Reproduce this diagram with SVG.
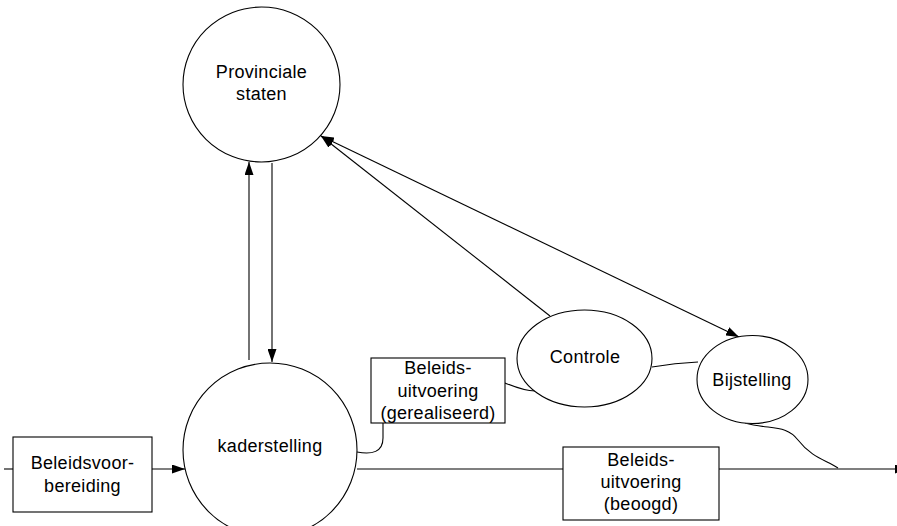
<svg xmlns="http://www.w3.org/2000/svg" width="897" height="526" viewBox="0 0 897 526">
<defs>
<style>
.shape{fill:#fff;stroke:#000;stroke-width:1.1}
.conn{fill:none;stroke:#000;stroke-width:1.1}
text{font-family:"Liberation Sans",Arial,sans-serif;font-size:18px;letter-spacing:0.3px;text-anchor:middle;fill:#000}
</style>
<marker id="ah" viewBox="0 0 13 9" refX="13" refY="4.5" markerWidth="13" markerHeight="9" markerUnits="userSpaceOnUse" orient="auto-start-reverse">
<path d="M0,0 L13,4.5 L0,9 Z" fill="#000"/>
</marker>
</defs>
<rect width="897" height="526" fill="#fff"/>
<g id="connectors">
<line class="conn" x1="4" y1="469" x2="13" y2="469"/>
<line class="conn" x1="152" y1="469" x2="185" y2="469" marker-end="url(#ah)"/>
<line class="conn" x1="249" y1="360" x2="249" y2="162" marker-end="url(#ah)"/>
<line class="conn" x1="272" y1="163" x2="272" y2="362" marker-end="url(#ah)"/>
<line class="conn" x1="550" y1="316" x2="321" y2="136" marker-end="url(#ah)"/>
<line class="conn" x1="321" y1="136" x2="739" y2="337" marker-start="url(#ah)" marker-end="url(#ah)"/>
<line class="conn" x1="357" y1="469" x2="563" y2="469"/>
<line class="conn" x1="719" y1="469" x2="908" y2="469" marker-end="url(#ah)"/>
<path class="conn" d="M357,452 C372,455 383,452 383,438 L383,423"/>
<path class="conn" d="M505,383 C515,387 524,391 535,391"/>
<path class="conn" d="M652,367 Q675,363 698,362"/>
<path class="conn" d="M745,423 C770,430 786,424 798,440 C812,458 826,460 838,468"/>
</g>
<g id="provinciale-staten">
<ellipse class="shape" cx="261.5" cy="84.5" rx="78.5" ry="77.5"/>
<text x="261.5" y="78">Provinciale</text>
<text x="261.5" y="100">staten</text>
</g>
<g id="kaderstelling">
<circle class="shape" cx="270" cy="450" r="87"/>
<text x="270" y="452">kaderstelling</text>
</g>
<g id="beleidsvoorbereiding">
<rect class="shape" x="13" y="437" width="139" height="75"/>
<text x="82.5" y="469">Beleidsvoor-</text>
<text x="82.5" y="492">bereiding</text>
</g>
<g id="uitvoering-gerealiseerd">
<rect class="shape" x="371" y="358" width="134" height="65"/>
<text x="438" y="374">Beleids-</text>
<text x="438" y="397">uitvoering</text>
<text x="438" y="419">(gerealiseerd)</text>
</g>
<g id="controle">
<ellipse class="shape" cx="584.5" cy="358.5" rx="67.5" ry="48.5"/>
<text x="585" y="363">Controle</text>
</g>
<g id="bijstelling">
<ellipse class="shape" cx="752.5" cy="379.5" rx="55.5" ry="44"/>
<text x="752" y="386">Bijstelling</text>
</g>
<g id="uitvoering-beoogd">
<rect class="shape" x="563" y="447" width="156" height="73"/>
<text x="641" y="466">Beleids-</text>
<text x="641" y="488">uitvoering</text>
<text x="641" y="510">(beoogd)</text>
</g>
</svg>
